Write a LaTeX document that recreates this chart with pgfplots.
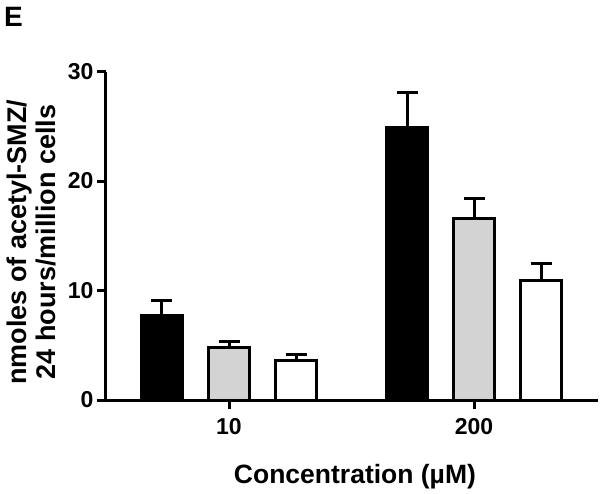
\documentclass[border=0pt]{standalone}
\usepackage{fontspec}
\setmainfont{Liberation Sans}
\usepackage{pgfplots}
\pgfplotsset{compat=1.18}
\definecolor{lightbar}{HTML}{D3D3D3}

\begin{document}
\begin{tikzpicture}[x=1pt,y=1pt]
\useasboundingbox (0,0) rectangle (600,493);
\node[anchor=north west, inner sep=0pt, font=\fontsize{28}{28}\selectfont\bfseries] at (4,486) {E};
\begin{axis}[
  at={(106pt,93pt)}, anchor=south west,
  scale only axis, width=492pt, height=328.4pt,
  xmin=-0.502, xmax=1.506, ymin=0, ymax=30,
  axis lines=left,
  axis line style={-, line width=3pt, black},
  xtick={0,1}, xticklabels={10,200},
  ytick={0,10,20,30},
  tick align=outside, major tick length=9pt,
  tick style={line width=3pt, black},
  ticklabel style={font=\fontsize{23}{23}\selectfont\bfseries},
  xticklabel style={yshift=-6pt},
  /pgf/number format/assume math mode=true,
  clip=false,
  xlabel={Concentration (µM)},
  xlabel style={at={(axis description cs:0.506,-0.2345)}, anchor=center,
    font=\fontsize{26.5}{26.5}\selectfont\bfseries},
  ylabel={nmoles of acetyl-SMZ/\\24 hours/million cells},
  ylabel style={at={(axis description cs:-0.1524,0.481)}, anchor=center,
    align=center, font=\fontsize{27}{29}\selectfont\bfseries},
  error bars/y dir=plus, error bars/y explicit,
  error bars/error mark=|,
  error bars/error mark options={line width=3pt, mark size=10.5pt, black},
  error bars/error bar style={line width=3pt, black},
]
% bars placed at group position +/- 0.2735 (10 uM at 0, 200 uM at 1)
\addplot[ybar, bar width=41pt, bar shift=0pt, fill=black, draw=black, line width=3pt]
  coordinates {(-0.2735,7.75) +- (0,1.35) (0.7265,24.86) +- (0,3.27)};
\addplot[ybar, bar width=41pt, bar shift=0pt, fill=lightbar, draw=black, line width=3pt]
  coordinates {(0,4.83) +- (0,0.53) (1,16.58) +- (0,1.87)};
\addplot[ybar, bar width=41pt, bar shift=0pt, fill=white, draw=black, line width=3pt]
  coordinates {(0.2735,3.61) +- (0,0.59) (1.2735,10.89) +- (0,1.57)};
\end{axis}
\end{tikzpicture}
\end{document}
